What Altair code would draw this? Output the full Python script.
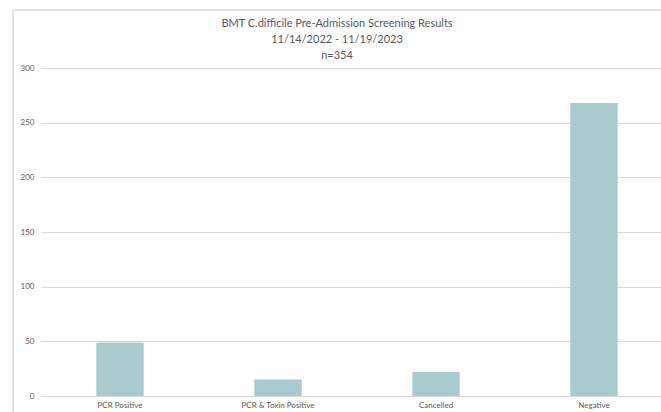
import altair as alt
import pandas as pd

categories = ["PCR Positive", "PCR & Toxin Positive", "Cancelled", "Negative"]
counts = [49, 15, 22, 268]
title_lines = ["BMT C.difficile Pre-Admission Screening Results", "11/14/2022 - 11/19/2023", "n=354"]
y_ticks = [0, 50, 100, 150, 200, 250, 300]

df = pd.DataFrame({"category": categories, "count": counts})

FONT = "Lato"
GRAY = "#595959"

bars = alt.Chart(df).mark_bar(color="#AACBCD").encode(
    x=alt.X("category:N", sort=categories, title=None,
            scale=alt.Scale(range=[0, 632], paddingInner=0.7, paddingOuter=0.35),
            axis=alt.Axis(labelAngle=0, ticks=False, domain=False, labelFontSize=8,
                          labelColor=GRAY, labelFont=FONT, labelPadding=5, grid=False)),
    y=alt.Y("count:Q", title=None,
            scale=alt.Scale(domain=[0, 300]),
            axis=alt.Axis(values=y_ticks, ticks=False, domain=False, labelFontSize=8,
                          labelColor=GRAY, labelFont=FONT, labelPadding=7,
                          gridColor="#D9D9D9", gridWidth=1)),
)

vborder = alt.Chart(df).mark_rule(color="#E0E0E0", strokeWidth=1).encode(
    x=alt.value(-28), y=alt.value(-58), y2=alt.value(360)
)
hborder = alt.Chart(df).mark_rule(color="#E0E0E0", strokeWidth=1).encode(
    x=alt.value(-28), x2=alt.value(700), y=alt.value(-58)
)

chart = alt.layer(vborder, hborder, bars).properties(
    width=620, height=328,
    title=alt.Title(text=title_lines, fontSize=11, font=FONT, color=GRAY,
                    fontWeight="normal", lineHeight=16, anchor="middle", frame="group",
                    dx=-14, dy=59, offset=8),
    autosize=alt.AutoSizeParams(type="none"),
    padding={"left": 41, "top": 68, "right": 0, "bottom": 16},
).configure_view(stroke=None)

chart.save("out.html", embed_options={"renderer": "svg", "actions": False})
